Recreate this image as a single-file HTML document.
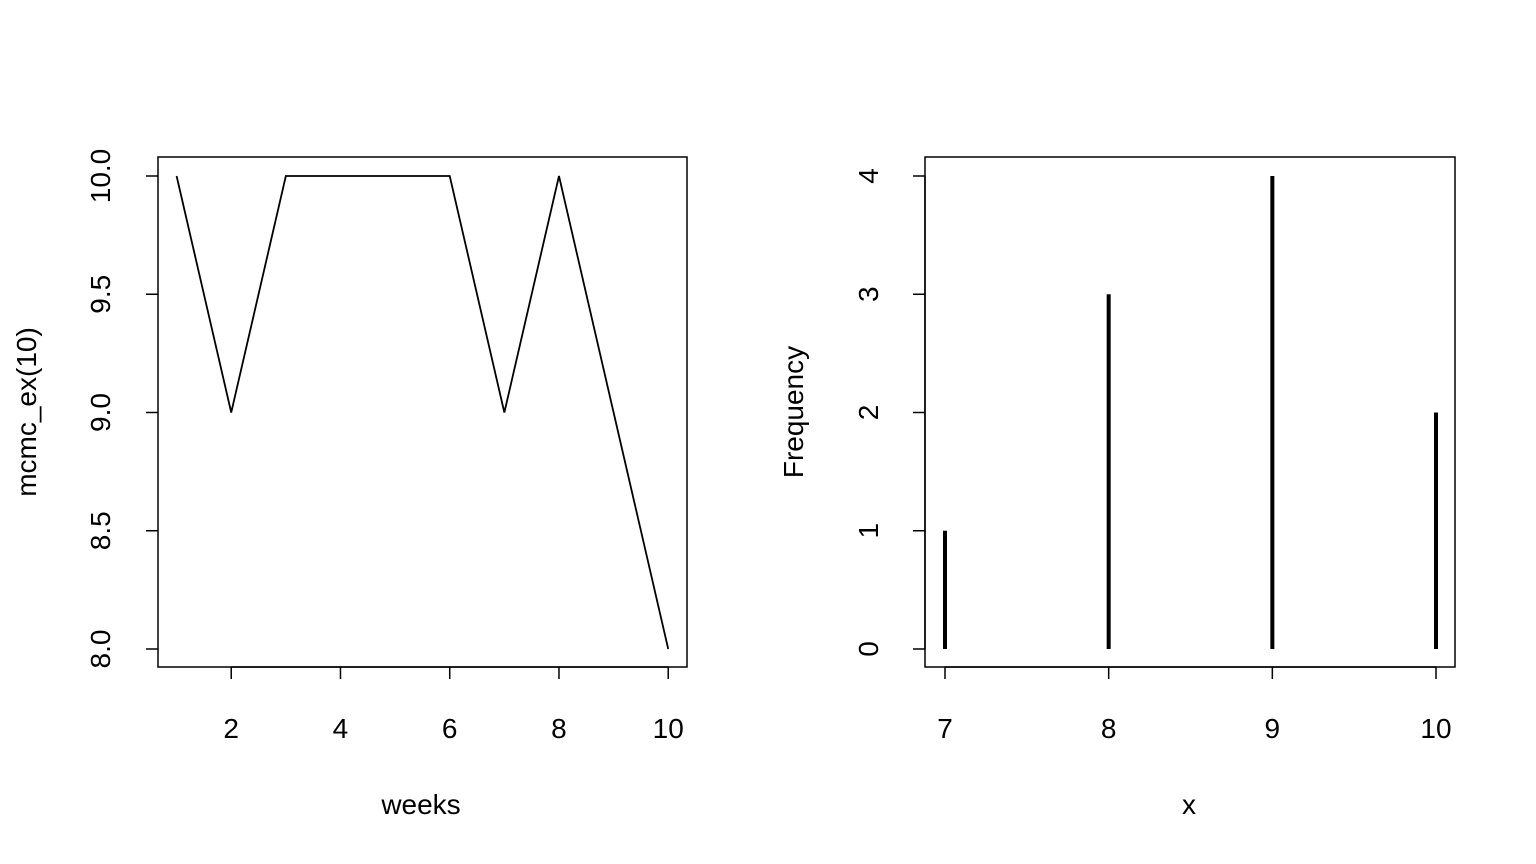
<!DOCTYPE html>
<html><head><meta charset="utf-8"><style>
body{margin:0;background:#fff}
svg{display:block;font-family:"Liberation Sans",Arial,sans-serif}
</style></head><body>
<svg id="c" width="1536" height="864" xmlns="http://www.w3.org/2000/svg">
<rect width="1536" height="864" fill="#fff"/>
</svg>
<script>
const weeks=[1,2,3,4,5,6,7,8,9,10];
const chainValues=[10,9,10,10,10,10,9,10,9,8];
const leftXTicks=[2,4,6,8,10];
const leftYTicks=[8.0,8.5,9.0,9.5,10.0];
const histX=[7,8,9,10];
const histFreq=[1,3,4,2];
const rightXTicks=[7,8,9,10];
const rightYTicks=[0,1,2,3,4];

const svg=document.getElementById('c');
const NS='http://www.w3.org/2000/svg';
function el(tag,attrs,parent){const e=document.createElementNS(NS,tag);for(const k in attrs)e.setAttribute(k,attrs[k]);(parent||svg).appendChild(e);return e;}
function txt(s,x,y,rot,name){const t=el('text',{x:x,y:y,'font-size':28,'text-anchor':'middle',fill:'#000'});if(rot)t.setAttribute('transform','rotate(-90 '+x+' '+y+')');t.textContent=s;


return t;}

// left panel
const lx=v=>176.6+(v-1)*54.625, ly=v=>649-(v-8)*236.5;
const g1=el('g',{});


const b1=el('rect',{x:158,y:157,width:529,height:510,fill:'none',stroke:'#000','stroke-width':1.5},g1);


leftXTicks.forEach(v=>{el('line',{x1:lx(v),x2:lx(v),y1:667,y2:679,stroke:'#000','stroke-width':1.5},g1);g1.appendChild(txt(String(v),lx(v),738,false,'x-tick-label'));});
el('line',{x1:lx(2),x2:lx(10),y1:667,y2:667,stroke:'#000','stroke-width':1.5},g1);
leftYTicks.forEach(v=>{el('line',{x1:146,x2:158,y1:ly(v),y2:ly(v),stroke:'#000','stroke-width':1.5},g1);g1.appendChild(txt(v.toFixed(1),110,ly(v),true,'y-tick-label'));});
const line=el('polyline',{points:weeks.map((w,i)=>lx(w)+','+ly(chainValues[i])).join(' '),fill:'none',stroke:'#000','stroke-width':1.8},g1);


g1.appendChild(txt('weeks',421,814,false,'x-axis-title'));
g1.appendChild(txt('mcmc_ex(10)',36,412,true,'y-axis-title'));

// right panel
const rx=v=>945+(v-7)*163.67, ry=v=>649-v*118.25;
const g2=el('g',{});


const b2=el('rect',{x:925,y:157,width:530,height:510,fill:'none',stroke:'#000','stroke-width':1.5},g2);


rightXTicks.forEach(v=>{el('line',{x1:rx(v),x2:rx(v),y1:667,y2:679,stroke:'#000','stroke-width':1.5},g2);g2.appendChild(txt(String(v),rx(v),738,false,'x-tick-label'));});
el('line',{x1:rx(7),x2:rx(10),y1:667,y2:667,stroke:'#000','stroke-width':1.5},g2);
rightYTicks.forEach(v=>{el('line',{x1:913,x2:925,y1:ry(v),y2:ry(v),stroke:'#000','stroke-width':1.5},g2);g2.appendChild(txt(String(v),878,ry(v),true,'y-tick-label'));});
el('line',{x1:925,x2:925,y1:ry(0),y2:ry(4),stroke:'#000','stroke-width':1.5},g2);
histX.forEach((v,i)=>{const b=el('line',{x1:rx(v),x2:rx(v),y1:ry(0),y2:ry(histFreq[i]),stroke:'#000','stroke-width':4},g2);

});
g2.appendChild(txt('x',1189,814,false,'x-axis-title'));
g2.appendChild(txt('Frequency',803,412,true,'y-axis-title'));
</script>
</body></html>
